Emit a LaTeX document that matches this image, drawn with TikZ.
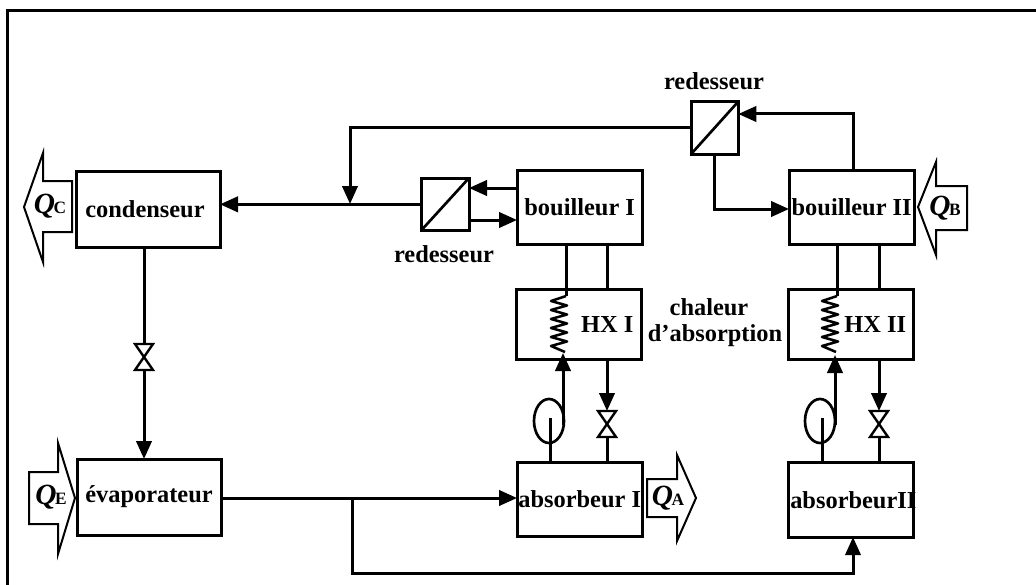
\documentclass[tikz,border=0pt]{standalone}
\usepackage{fontspec}
\setmainfont{Liberation Serif}
\usetikzlibrary{arrows.meta,shapes.geometric}
\tikzset{
  x=0.75pt,y=-0.75pt,
  box/.style={draw,line width=2.25pt,inner sep=0pt,outer sep=0pt,anchor=north west,font=\bfseries\fontsize{18.3}{18}\selectfont},
  lbl/.style={inner sep=0pt,font=\bfseries\fontsize{18.3}{18}\selectfont},
  pipe/.style={line width=2.25pt},
  flow/.style={line width=2.25pt,-{Triangle[length=13.5pt,width=11.5pt]}},
  bigarrow/.style={draw,line width=1.5pt,fill=white,miter limit=20},
  qt/.style={inner sep=0pt,font=\bfseries\fontsize{22}{22}\selectfont},
  valveshape/.style={draw,line width=1.8pt,fill=white},
  pumpshape/.style={draw,line width=2pt,ellipse,inner sep=0pt,outer sep=0pt,minimum width=22.5pt,minimum height=33pt},
  coilline/.style={line width=1.9pt,line join=round}
}
\newcommand{\qlab}[1]{\textit{Q}\kern-1pt{\fontsize{13}{13}\selectfont #1}}
\newcommand{\myvalve}[3]{%
  \coordinate (#1) at (#2,#3);
  \coordinate (#1t) at (#2,#3-13);
  \coordinate (#1b) at (#2,#3+13);}
\newcommand{\drawvalve}[2]{\draw[valveshape] (#1-9,#2-13) -- (#1+9,#2-13) -- (#1-9,#2+13) -- (#1+9,#2+13) -- cycle;}
\newcommand{\drawcoil}[1]{\draw[coilline] (#1,296) -- (#1-15,301) -- (#1+1,305.5) -- (#1-15,310) -- (#1+1,314.5) -- (#1-15,319) -- (#1+1,323.5) -- (#1-15,328) -- (#1+1,332.5) -- (#1-15,337) -- (#1+1,341.5) -- (#1-15,346) -- (#1-1,352);}
\begin{document}
\begin{tikzpicture}
\useasboundingbox (0,0) rectangle (1036,585);
\fill[white] (0,0) rectangle (1036,585);
% outer frame (left and top edges only show)
\coordinate (fa) at (7.5,585);
\coordinate (fb) at (7.5,10.5);
\coordinate (fc) at (1036,10.5);
\draw[line width=2.8pt] (fa) -- (fb) -- (fc);

% boxes
\node[box,minimum width=108pt,minimum height=57pt] (cond) at (76,171) {condenseur\hspace*{4.5pt}};
\node[box,minimum width=94pt,minimum height=56pt] (bI) at (517,170) {bouilleur I};
\node[box,minimum width=94pt,minimum height=56pt] (bII) at (789,170) {bouilleur II};
\node[box,minimum width=94pt,minimum height=53pt] (hxI) at (516,289) {\hspace*{43pt}HX I};
\node[box,minimum width=94pt,minimum height=53pt] (hxII) at (788,289) {\hspace*{37pt}HX II};
\node[box,minimum width=94pt,minimum height=56pt] (aI) at (517,462) {absorbeur I};
\node[box,minimum width=94pt,minimum height=56pt] (aII) at (788,462.5) {\makebox[90pt][c]{\hspace*{4pt}absorbeurII}};
\node[box,minimum width=108pt,minimum height=57pt] (evap) at (77,459) {\raisebox{2pt}{évaporateur}};
\node[box,minimum width=36pt,minimum height=39.5pt] (rA) at (421,178) {};
\node[box,minimum width=35.5pt,minimum height=39.5pt] (rB) at (691,101.5) {};
\draw[line width=2pt] (rA.south west) -- (rA.north east);
\draw[line width=2pt] (rB.south west) -- (rB.north east);

% text labels
\node[lbl] (l1) at (444,254) {redesseur};
\node[lbl] (l2) at (714,81) {redesseur};
\node[lbl] (l3) at (709,307) {chaleur};
\node[lbl] (l4) at (715,336) {d'absorption};

% valves, pumps, junctions
\myvalve{v1}{144}{357}
\myvalve{v2}{607}{424}
\myvalve{v3}{879}{424}
\coordinate (j1b) at (350,128);
\coordinate (j2) at (350,204);
\coordinate (j3) at (352,498);
\coordinate (j4) at (352,573);
\coordinate (j5) at (853,573);
\coordinate (j6) at (853,114);
\coordinate (j7) at (714,209);
\coordinate (c1) at (566,296);
\coordinate (c2) at (837,296);
\coordinate (up1) at (563,425);
\coordinate (up2) at (835,425);

% connectors
\draw[flow] (rA.west) -- (cond.east |- rA.west);
\draw[flow] (rB.west |- j1b) -- (j1b) -- (j2);
\draw[flow] (bI.west |- 0,188) -- (rA.east |- 0,188);
\draw[flow] (rA.east |- 0,220) -- (bI.west |- 0,220);
\draw[flow] (bII.north -| j6) -- (j6) -- (rB.east |- j6);
\draw[flow] (rB.south -| j7) -- (j7) -- (bII.west |- j7);
\draw[pipe] (cond.south -| v1) -- (v1t);
\draw[flow] (v1b) -- (evap.north -| v1);
\draw[flow] (evap.east |- j3) -- (aI.west |- j3);
\draw[flow] (j3) -- (j4) -- (j5) -- (aII.south -| j5);
\draw[pipe] (bI.south -| c1) -- (c1);
\draw[pipe] (bI.south -| v2) -- (hxI.north -| v2);
\draw[pipe] (bII.south -| c2) -- (c2);
\draw[pipe] (bII.south -| v3) -- (hxII.north -| v3);
\draw[flow] (hxI.south -| v2) -- (v2t);
\draw[pipe] (v2b) -- (aI.north -| v2);
\draw[flow] (hxII.south -| v3) -- (v3t);
\draw[pipe] (v3b) -- (aII.north -| v3);
\draw[flow] (up1) -- (up1 |- 0,353);
\draw[flow] (up2) -- (up2 |- 0,355);

% coils
\drawcoil{566}
\drawcoil{837}

% pumps
\node[pumpshape] (pA) at (549,421) {};
\node[pumpshape] (pB) at (820,421) {};
\draw[pipe] (aI.north -| 550,0) -- (550,418);
\draw[pipe] (aII.north -| 822,0) -- (822,418);

% valves on top
\drawvalve{144}{357}
\drawvalve{607}{424}
\drawvalve{879}{424}

% block arrows
\draw[bigarrow] (72,181) -- (43,181) -- (43,153) -- (24,207) -- (43,262) -- (43,232) -- (72,232) -- cycle;
\node[qt] (qc) at (50,206) {\qlab{C}};
\draw[bigarrow] (29,472) -- (58,472) -- (58,443) -- (75,498) -- (58,554) -- (58,524) -- (29,524) -- cycle;
\node[qt] (qe) at (51,497) {\qlab{E}};
\draw[bigarrow] (647,479) -- (677,479) -- (677,455) -- (696,498) -- (677,541) -- (677,517) -- (647,517) -- cycle;
\node[qt] (qa) at (668,498) {\qlab{A}};
\draw[bigarrow] (967,186) -- (936,186) -- (936,162) -- (918,207) -- (936,255) -- (936,230) -- (967,230) -- cycle;
\node[qt] (qb) at (945,208) {\qlab{B}};
\end{tikzpicture}
\end{document}
